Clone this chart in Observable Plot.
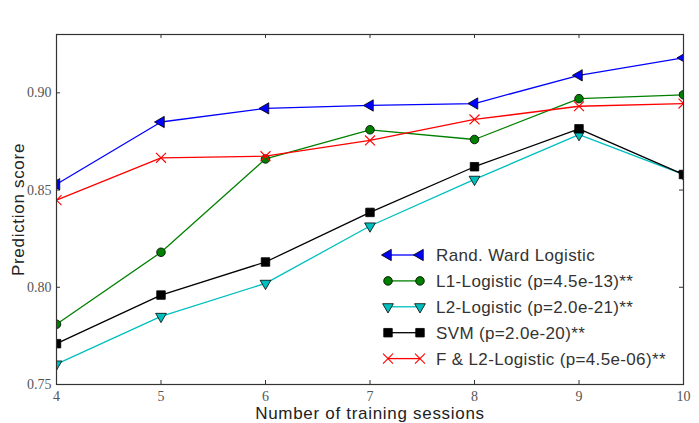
<!DOCTYPE html>
<html>
<head>
<meta charset="utf-8">
<script src="https://cdn.jsdelivr.net/npm/d3@7"></script>
<script src="https://cdn.jsdelivr.net/npm/@observablehq/plot@0.6"></script>
<style>
  html, body { margin: 0; padding: 0; background: #fff; }
  #chart svg { display: block; }
  #chart g[aria-label="x-axis tick label"] text,
  #chart g[aria-label="y-axis tick label"] text {
    font-family: "Liberation Serif", serif;
    font-size: 14px;
    fill: #555;
  }
  #chart g[aria-label="text"] text { letter-spacing: 0.7px; }
</style>
</head>
<body>
<div id="chart"></div>
<script>
// Prediction score vs. number of training sessions, one line per model
const sessions = [4, 5, 6, 7, 8, 9, 10];
const randWard = [0.853, 0.885, 0.892, 0.8935, 0.8945, 0.909, 0.918];
const l1Logistic = [0.781, 0.818, 0.866, 0.881, 0.876, 0.897, 0.899];
const l2Logistic = [0.7605, 0.785, 0.802, 0.8315, 0.8555, 0.8785, 0.858];
const svm = [0.771, 0.796, 0.813, 0.8385, 0.862, 0.8815, 0.858];
const fL2Logistic = [0.8448, 0.8666, 0.8674, 0.8755, 0.8863, 0.8931, 0.8945];

const seriesNames = [
  "Rand. Ward Logistic",
  "L1-Logistic (p=4.5e-13)**",
  "L2-Logistic (p=2.0e-21)**",
  "SVM (p=2.0e-20)**",
  "F & L2-Logistic (p=4.5e-06)**"
];
const seriesValues = [randWard, l1Logistic, l2Logistic, svm, fL2Logistic];

const xTicks = [4, 5, 6, 7, 8, 9, 10];
const yTicks = [0.75, 0.80, 0.85, 0.90];

// Line colour and marker style for each series
const styles = [
  {color: "#0000ff", symbol: "triangle", rotate: -90, fill: "#0000ff", r: 4.2},
  {color: "#008000", symbol: "circle", rotate: 0, fill: "#008000", r: 4.3},
  {color: "#00bfbf", symbol: "triangle", rotate: 180, fill: "#00bfbf", r: 4.0},
  {color: "#000000", symbol: "square", rotate: 0, fill: "#000000", r: 4.8},
  {color: "#ff0000", symbol: "times", rotate: 0, fill: "none", r: 4.6}
];

const width = 699, height = 423;
const margin = {top: 34, right: 16, bottom: 39, left: 56};
const innerW = width - margin.left - margin.right;
const innerH = height - margin.top - margin.bottom;

const rows = seriesValues.map((vals, s) =>
  sessions.map((x, i) => ({series: seriesNames[s], x, y: vals[i]}))
);

const seriesMarks = rows.flatMap((data, s) => {
  const st = styles[s];
  const dotOpts = st.symbol === "times"
    ? {stroke: st.color, fill: "none", strokeWidth: 1.1}
    : {fill: st.fill, stroke: "#000", strokeWidth: 0.8};
  return [
    Plot.line(data, {x: "x", y: "y", stroke: st.color, strokeWidth: 1.3, clip: true}),
    Plot.dot(data, {x: "x", y: "y", symbol: st.symbol, rotate: st.rotate, r: st.r, clip: true, ...dotOpts})
  ];
});

const chart = Plot.plot({
  width, height,
  marginTop: margin.top, marginRight: margin.right,
  marginBottom: margin.bottom, marginLeft: margin.left,
  style: {background: "#fff", fontFamily: "Liberation Sans, Arial, sans-serif"},
  x: {domain: [4, 10]},
  y: {domain: [0.75, 0.93]},
  marks: [
    Plot.axisX({ticks: xTicks, tickSize: 0, tickPadding: 7, tickFormat: d => String(d), label: null}),
    Plot.axisY({ticks: yTicks, tickSize: 0, tickPadding: 5, tickFormat: d3.format(".2f"), label: null}),
    // inward ticks on all four sides
    Plot.tickX(xTicks, {x: d => d, insetTop: innerH - 4, stroke: "#333"}),
    Plot.tickX(xTicks, {x: d => d, insetBottom: innerH - 4, stroke: "#333"}),
    Plot.tickY(yTicks, {y: d => d, insetRight: innerW - 4, stroke: "#333"}),
    Plot.tickY(yTicks, {y: d => d, insetLeft: innerW - 4, stroke: "#333"}),
    ...seriesMarks,
    Plot.frame({stroke: "#333", strokeWidth: 1.2}),
    Plot.text(["Number of training sessions"], {
      frameAnchor: "bottom", dy: 29, lineAnchor: "middle", textAnchor: "middle",
      fontSize: 17, fill: "#222"
    }),
    Plot.text(["Prediction score"], {
      frameAnchor: "left", dx: -38, rotate: -90, lineAnchor: "middle", textAnchor: "middle",
      fontSize: 17, fill: "#222"
    })
  ]
});

// Legend inside the plot area, lower right
const legend = d3.select(chart).append("g")
  .attr("font-family", "Liberation Sans, Arial, sans-serif")
  .attr("font-size", 17)
  .attr("letter-spacing", "0.35px")
  .attr("text-anchor", "start");
const lx0 = margin.left + 332, lx1 = margin.left + 364, ltext = margin.left + 380;
const ly0 = margin.top + 221, lstep = 25.9;
seriesNames.forEach((name, s) => {
  const st = styles[s];
  const y = ly0 + s * lstep;
  legend.append("line")
    .attr("x1", lx0).attr("x2", lx1).attr("y1", y).attr("y2", y)
    .attr("stroke", st.color).attr("stroke-width", 1.3);
  const symType = {triangle: d3.symbolTriangle, circle: d3.symbolCircle,
                   square: d3.symbolSquare, times: d3.symbolTimes}[st.symbol];
  const path = d3.symbol(symType, st.r * st.r * Math.PI)();
  [lx0, lx1].forEach(x => {
    const p = legend.append("path")
      .attr("d", path)
      .attr("transform", `translate(${x},${y}) rotate(${st.rotate})`);
    if (st.symbol === "times") p.attr("fill", "none").attr("stroke", st.color).attr("stroke-width", 1.1);
    else p.attr("fill", st.fill).attr("stroke", "#000").attr("stroke-width", 0.8);
  });
  legend.append("text")
    .attr("x", ltext).attr("y", y).attr("dy", "0.35em")
    .attr("fill", "#333")
    .text(name);
});

document.getElementById("chart").appendChild(chart);
</script>
</body>
</html>
